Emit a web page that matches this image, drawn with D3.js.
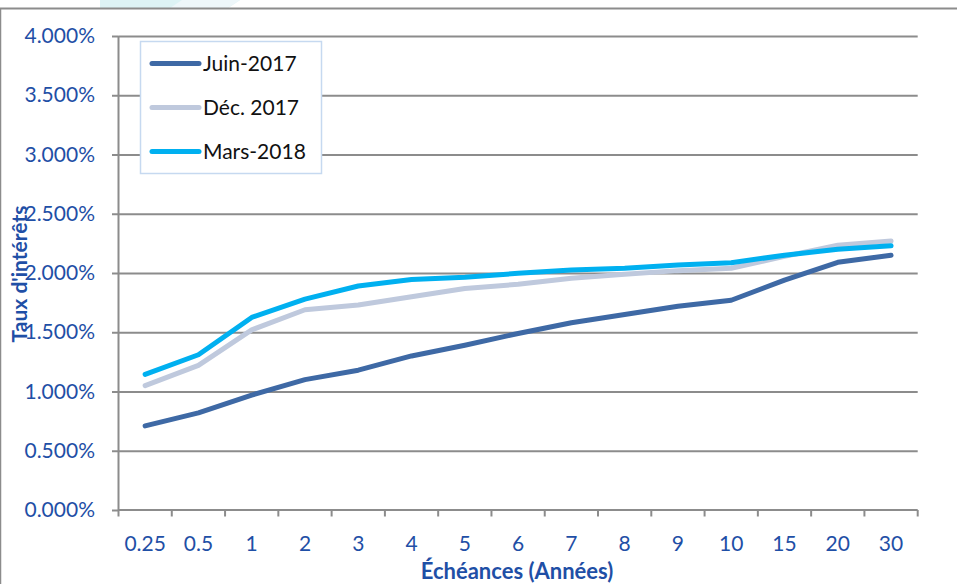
<!DOCTYPE html>
<html>
<head>
<meta charset="utf-8">
<script src="https://cdn.jsdelivr.net/npm/d3@7/dist/d3.min.js"></script>
<style>
  html, body { margin: 0; padding: 0; background: #fff; }
  svg { display: block; }
  text { font-family: Lato, "Open Sans", sans-serif; }
</style>
</head>
<body>
<svg id="chart" width="961" height="584"></svg>
<script>
// Maturities (years) on the category axis
const maturities = ["0.25", "0.5", "1", "2", "3", "4", "5", "6", "7", "8", "9", "10", "15", "20", "30"];

// Yield curves, in percent
const juin2017 = [0.71, 0.82, 0.97, 1.10, 1.18, 1.30, 1.39, 1.49, 1.58, 1.65, 1.72, 1.77, 1.94, 2.09, 2.15];
const dec2017  = [1.05, 1.22, 1.52, 1.69, 1.73, 1.80, 1.87, 1.905, 1.955, 1.99, 2.02, 2.04, 2.14, 2.235, 2.27];
const mars2018 = [1.145, 1.31, 1.625, 1.78, 1.89, 1.945, 1.965, 1.997, 2.025, 2.04, 2.068, 2.087, 2.15, 2.20, 2.23];

const seriesNames  = ["Juin-2017", "Déc. 2017", "Mars-2018"];
const seriesColors = ["#3e69a5", "#bfc9dd", "#00b0f0"];

// Y axis ticks (fractions)
const yTicks = [0, 0.005, 0.01, 0.015, 0.02, 0.025, 0.03, 0.035, 0.04];

const series = [juin2017, dec2017, mars2018].map((vals, i) => ({
  name: seriesNames[i],
  color: seriesColors[i],
  values: vals.map((v, j) => ({ m: maturities[j], v: v / 100 }))
}));

const svg = d3.select("#chart");
const labelBlue = "#1f4fa6";
const axisGrey = "#8c8c8c";

const x = d3.scaleBand().domain(maturities).range([118.5, 917.7]).padding(0);
const y = d3.scaleLinear().domain([0, 0.04]).range([510, 36]);

// Decorative backdrop fragment above the frame
svg.append("path")
  .attr("d", "M100,0 L240,0 L228,8 L100,8 Z")
  .attr("fill", "#d4f0f2").attr("opacity", 0.8);
svg.append("path")
  .attr("d", "M182,0 L240,0 L228,8 L170,8 Z")
  .attr("fill", "#eef7fa");

// Outer frame (top and left)
svg.append("line").attr("x1", 0).attr("x2", 957).attr("y1", 8.5).attr("y2", 8.5)
  .attr("stroke", axisGrey).attr("stroke-width", 2);
svg.append("line").attr("x1", 0.5).attr("x2", 0.5).attr("y1", 8).attr("y2", 584)
  .attr("stroke", axisGrey).attr("stroke-width", 1.5);

// Horizontal gridlines
svg.append("g")
  .attr("transform", `translate(${x.range()[0]},0)`)
  .call(d3.axisRight(y).tickValues(yTicks.slice(1)).tickSize(x.range()[1] - x.range()[0]).tickFormat(""))
  .call(g => g.select(".domain").remove())
  .call(g => g.selectAll("line").attr("stroke", axisGrey).attr("stroke-width", 2));

// Y axis
svg.append("g")
  .attr("transform", `translate(${x.range()[0]},0)`)
  .call(d3.axisLeft(y).tickValues(yTicks).tickFormat(d3.format(".3%")).tickSize(6.5).tickPadding(17))
  .call(g => g.select(".domain").attr("stroke", axisGrey).attr("stroke-width", 2).attr("d", `M0,${y(0)}V${y(0.04)}`))
  .call(g => g.selectAll("line").attr("stroke", axisGrey).attr("stroke-width", 2))
  .call(g => g.selectAll("text").attr("fill", labelBlue).attr("font-size", 21).attr("font-family", "Lato, sans-serif"));

// X axis: baseline, category boundary ticks, centred labels
const xAxisG = svg.append("g").attr("transform", `translate(0,${y(0)})`);
xAxisG.call(d3.axisBottom(x).tickSize(0).tickPadding(26))
  .call(g => g.select(".domain").attr("stroke", axisGrey).attr("stroke-width", 2).attr("d", `M${x.range()[0]},0H${x.range()[1]}`))
  .call(g => g.selectAll("text").attr("fill", labelBlue).attr("font-size", 21).attr("font-family", "Lato, sans-serif"));
const boundaries = maturities.map(m => x(m)).concat([x.range()[1]]);
xAxisG.selectAll("line.bound").data(boundaries).join("line")
  .attr("class", "bound")
  .attr("x1", d => d).attr("x2", d => d).attr("y1", 0).attr("y2", 6.5)
  .attr("stroke", axisGrey).attr("stroke-width", 2);

// Axis titles
svg.append("text")
  .attr("x", 517).attr("y", 579)
  .attr("text-anchor", "middle")
  .attr("fill", labelBlue).attr("font-size", 22).attr("font-weight", "bold")
  .text("Échéances (Années)");
svg.append("text")
  .attr("transform", "translate(27,274) rotate(-90)")
  .attr("text-anchor", "middle")
  .attr("fill", labelBlue).attr("font-size", 21).attr("font-weight", "bold")
  .text("Taux d'intérêts");

// Curves
const line = d3.line()
  .x(d => x(d.m) + x.bandwidth() / 2)
  .y(d => y(d.v));

svg.append("g").selectAll("path").data(series).join("path")
  .attr("d", d => line(d.values))
  .attr("fill", "none")
  .attr("stroke", d => d.color)
  .attr("stroke-width", 5)
  .attr("stroke-linejoin", "round")
  .attr("stroke-linecap", "round");

// Legend
const legend = svg.append("g");
legend.append("rect")
  .attr("x", 140.5).attr("y", 41.5).attr("width", 181).attr("height", 132)
  .attr("fill", "#fff").attr("stroke", "#c6d9f0").attr("stroke-width", 1.5);
const items = legend.selectAll("g.item").data(series).join("g")
  .attr("class", "item")
  .attr("transform", (d, i) => `translate(0,${63.5 + i * 44})`);
items.append("line")
  .attr("x1", 152).attr("x2", 199).attr("y1", 0).attr("y2", 0)
  .attr("stroke", d => d.color).attr("stroke-width", 5).attr("stroke-linecap", "round");
items.append("text")
  .attr("x", 203).attr("y", 7.5)
  .attr("fill", "#111").attr("font-size", 21)
  .text(d => d.name);
</script>
</body>
</html>
